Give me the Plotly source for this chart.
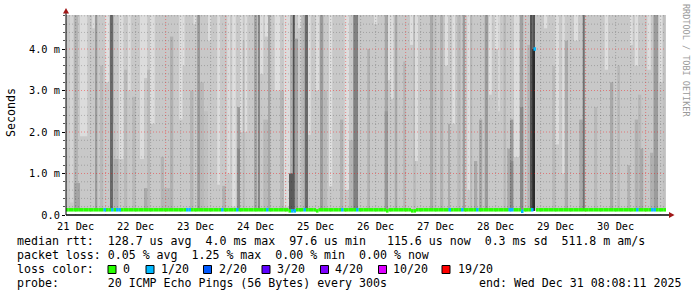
import pandas as pd
import plotly.graph_objects as go

# ---------------- data ----------------
START = pd.Timestamp("2025-12-21 08:08:11")
END = pd.Timestamp("2025-12-31 08:08:11")
Y_TOP = 4.82  # ms

day_labels = ["21 Dec", "22 Dec", "23 Dec", "24 Dec", "25 Dec",
              "26 Dec", "27 Dec", "28 Dec", "29 Dec", "30 Dec"]
day_label_times = ["2025-12-21 12:00", "2025-12-22 12:00", "2025-12-23 12:00",
                   "2025-12-24 12:00", "2025-12-25 12:00", "2025-12-26 12:00",
                   "2025-12-27 12:00", "2025-12-28 12:00", "2025-12-29 12:00",
                   "2025-12-30 12:00"]

y_tick_vals = [0, 1, 2, 3, 4]
y_tick_text = ["0.0", "1.0 m", "2.0 m", "3.0 m", "4.0 m"]

# smoke background (ms) : lower, upper, gray level
smoke_base = (0.1, 5.0, 200)

# smoke bands: start hour, end hour (since START), low ms, high ms, gray level
smoke_bands = [
    (1.6, 2.9, 0.3, 5, 212), (3.2, 4.8, 0.1, 5, 180), (3.2, 5.6, 0.1, 0.77, 165),
    (5.6, 8.5, 1.9, 5, 220), (10.5, 11.5, 4.5, 5, 220), (11.6, 12.5, 0.1, 5, 155),
    (13.6, 14.9, 0.1, 3.6, 184), (15.7, 17.2, 3.2, 5, 224), (17.6, 18.9, 0.1, 5, 106),
    (18.9, 19.9, 0.1, 2.2, 192), (19.0, 21.0, 0.1, 1.35, 176), (21.2, 23.0, 1.35, 5, 220),
    (23.2, 24.5, 0.1, 3.5, 184), (24.8, 25.9, 3.0, 5, 220), (26.5, 27.9, 0.1, 2.85, 184),
    (29.6, 31.2, 1.35, 5, 220), (31.2, 32.5, 3.3, 5, 220), (31.2, 32.8, 0.1, 0.65, 170),
    (32.5, 33.6, 0.1, 3.5, 184), (33.6, 35.5, 2.2, 5, 220), (37.9, 39.2, 0.1, 1.4, 180),
    (39.2, 41.6, 0.1, 0.65, 184), (41.6, 42.9, 0.1, 4.3, 176), (45.3, 46.6, 2.3, 5, 222),
    (46.6, 47.4, 3.6, 5, 222), (49.6, 51.0, 0.1, 3.0, 180), (51.0, 52.0, 4.6, 5, 220),
    (52.5, 53.6, 0.1, 5, 153), (53.6, 55.2, 0.1, 3.2, 184), (55.2, 56.8, 0.1, 2.5, 192),
    (56.8, 57.9, 4.2, 5, 220),
    (60.5, 61.6, 0.73, 5, 220), (62.5, 63.9, 0.1, 0.7, 176), (64.5, 65.6, 1.0, 5, 220),
    (66.5, 67.9, 0.2, 5, 222), (68.5, 69.6, 0.1, 2.6, 155), (68.5, 69.6, 0.1, 1.6, 136),
    (69.6, 70.7, 2.0, 5, 220), (70.7, 71.5, 0.1, 4.2, 184), (71.5, 72.5, 2.0, 5, 220),
    (75.2, 76.5, 0.1, 5, 165), (76.8, 77.6, 0.1, 5, 136), (77.6, 78.9, 3.4, 5, 220),
    (78.9, 81.2, 0.1, 2.3, 184), (79.5, 80.8, 4.3, 5, 222), (80.8, 81.7, 0.1, 5, 165),
    (83.5, 85.6, 3.0, 5, 222), (85.6, 87.2, 0.1, 3.0, 180), (87.2, 89.6, 0.2, 5, 220),
    (89.6, 90.7, 0.1, 5, 176), (90.7, 91.5, 0.1, 5, 80), (89.2, 91.5, 0.1, 1.0, 90),
    (91.5, 92.8, 0.1, 4.25, 160), (92.8, 94.1, 4.5, 5, 220), (94.1, 95.5, 0.1, 5, 184),
    (95.5, 96.8, 0.1, 5, 106), (96.8, 97.9, 1.93, 5, 220), (99.9, 101.2, 3.0, 5, 220),
    (101.6, 102.9, 0.1, 5, 155), (102.9, 104.5, 0.1, 3.0, 184), (105.2, 106.5, 0.69, 5, 222),
    (109.6, 110.9, 0.1, 2.3, 176), (111.5, 113.2, 0.6, 5, 222), (113.2, 114.9, 0.1, 1.8, 180),
    (114.9, 116.8, 0.1, 5, 128),
    (120.5, 121.6, 0.1, 4.0, 176), (123.2, 124.5, 4.6, 5, 220), (127.5, 128.8, 0.1, 5, 165),
    (127.5, 128.8, 0.1, 2.5, 150), (128.8, 129.9, 3.25, 5, 222), (129.9, 131.0, 2.8, 5, 220),
    (131.5, 132.5, 0.1, 5, 168), (134.9, 135.9, 0.1, 3.7, 180), (137.6, 138.9, 4.1, 5, 222),
    (138.9, 139.9, 0.1, 5, 184), (139.6, 140.8, 1.3, 5, 220), (145.6, 146.9, 0.1, 5, 168),
    (146.9, 148.2, 0.1, 5, 192), (149.6, 150.9, 0.1, 5, 176), (151.6, 152.8, 3.6, 5, 222),
    (152.8, 153.6, 0.1, 2.2, 170), (154.5, 155.6, 2.2, 5, 222), (156.5, 157.9, 0.1, 5, 184),
    (158.7, 159.6, 0.1, 5, 155), (160.5, 161.6, 0.6, 5, 222), (161.6, 162.5, 0.1, 5, 184),
    (163.2, 164.5, 0.1, 1.3, 168), (165.2, 166.5, 0.1, 2.3, 168), (167.5, 168.8, 0.1, 5, 155),
    (169.2, 170.3, 2.9, 5, 222), (171.5, 172.8, 4.0, 5, 222), (172.8, 173.6, 2.5, 5, 214),
    (175.0, 176.0, 0.1, 5, 184), (176.5, 177.6, 0.1, 1.6, 168), (177.6, 178.9, 0.1, 2.3, 155),
    (177.6, 178.9, 0.1, 1.3, 136),
    (179.2, 181.2, 1.4, 5, 220), (181.6, 182.9, 0.1, 5, 160), (181.6, 182.9, 0.1, 2.6, 136),
    (184.5, 185.6, 0.1, 4.1, 180), (185.6, 186.5, 0.1, 5, 85), (186.5, 187.6, 0.1, 5, 85),
    (186.5, 187.6, 0.1, 4.0, 42), (191.2, 192.5, 4.5, 5, 222), (194.5, 195.8, 0.1, 3.6, 184),
    (195.8, 197.2, 1.7, 5, 220), (198.5, 199.5, 1.0, 5, 220), (199.5, 200.8, 0.1, 4.2, 170),
    (203.2, 204.8, 4.2, 5, 222), (205.3, 206.7, 0.1, 2.3, 168), (206.7, 207.5, 0.1, 5, 112),
    (211.2, 212.5, 0.1, 2.6, 184), (215.5, 216.8, 3.5, 5, 222), (217.6, 218.9, 0.1, 3.2, 168),
    (220.5, 221.6, 0.1, 3.6, 184), (224.5, 225.6, 0.1, 1.2, 176), (225.6, 226.7, 4.1, 5, 222),
    (227.5, 228.8, 3.6, 5, 222), (227.5, 228.8, 0.1, 2.3, 176), (228.8, 230.1, 0.1, 2.9, 184),
    (229.5, 230.9, 0.1, 1.6, 168), (232.5, 233.9, 3.5, 5, 222), (233.6, 234.9, 0.1, 1.5, 176),
    (235.0, 236.8, 0.1, 5, 155), (237.3, 238.7, 3.2, 5, 222), (238.7, 239.6, 0.1, 5, 192),
]

# hourly median rtt (ms), 10 rows of 24 hours
median_ms = [
    0.125, 0.125, 0.125, 0.125, 0.125, 0.125, 0.125, 0.125, 0.125, 0.125, 0.125, 0.125,
    0.125, 0.125, 0.125, 0.125, 0.125, 0.125, 0.125, 0.125, 0.125, 0.125, 0.125, 0.125,
    0.125, 0.125, 0.125, 0.125, 0.125, 0.125, 0.125, 0.125, 0.125, 0.125, 0.125, 0.125,
    0.125, 0.125, 0.125, 0.125, 0.125, 0.125, 0.125, 0.125, 0.125, 0.125, 0.125, 0.125,
    0.125, 0.125, 0.125, 0.125, 0.125, 0.125, 0.125, 0.125, 0.125, 0.125, 0.125, 0.125,
    0.125, 0.125, 0.125, 0.125, 0.125, 0.125, 0.125, 0.125, 0.125, 0.125, 0.125, 0.125,
    0.125, 0.125, 0.125, 0.125, 0.125, 0.125, 0.125, 0.125, 0.125, 0.125, 0.125, 0.125,
    0.125, 0.125, 0.125, 0.125, 0.125, 0.100, 0.100, 0.100, 0.125, 0.125, 0.125, 0.125,
    0.125, 0.125, 0.125, 0.125, 0.100, 0.125, 0.125, 0.125, 0.125, 0.125, 0.125, 0.125,
    0.125, 0.125, 0.125, 0.125, 0.125, 0.125, 0.125, 0.125, 0.125, 0.125, 0.125, 0.125,
    0.125, 0.125, 0.125, 0.125, 0.125, 0.125, 0.125, 0.125, 0.100, 0.125, 0.125, 0.125,
    0.125, 0.125, 0.125, 0.125, 0.125, 0.125, 0.100, 0.100, 0.125, 0.125, 0.125, 0.125,
    0.125, 0.125, 0.125, 0.125, 0.125, 0.125, 0.125, 0.125, 0.125, 0.125, 0.125, 0.125,
    0.125, 0.125, 0.125, 0.125, 0.125, 0.125, 0.125, 0.125, 0.125, 0.125, 0.125, 0.125,
    0.125, 0.125, 0.125, 0.125, 0.125, 0.125, 0.125, 0.125, 0.125, 0.125, 0.125, 0.125,
    0.125, 0.125, 0.090, 0.125, 0.125, 0.125, 0.125, 4.000, 0.125, 0.125, 0.125, 0.125,
    0.125, 0.125, 0.125, 0.125, 0.125, 0.125, 0.125, 0.125, 0.125, 0.125, 0.125, 0.125,
    0.125, 0.125, 0.125, 0.125, 0.125, 0.125, 0.125, 0.125, 0.125, 0.125, 0.125, 0.125,
    0.125, 0.125, 0.125, 0.125, 0.125, 0.125, 0.125, 0.125, 0.125, 0.125, 0.125, 0.125,
    0.125, 0.125, 0.125, 0.125, 0.125, 0.125, 0.125, 0.125, 0.125, 0.125, 0.125, 0.125,
]

# hourly lost pings out of 20
loss_of_20 = [
    0, 0, 0, 0, 0, 0, 0, 0, 0, 0, 0, 0, 0, 0, 0, 1, 0, 0, 1, 0, 1, 1, 0, 0,
    0, 0, 0, 0, 0, 0, 0, 0, 0, 0, 0, 0, 0, 0, 0, 0, 0, 0, 0, 0, 0, 0, 0, 0,
    1, 1, 0, 0, 0, 0, 0, 0, 0, 0, 0, 0, 0, 0, 1, 0, 0, 0, 0, 0, 1, 0, 0, 0,
    0, 0, 0, 0, 0, 0, 0, 0, 1, 0, 0, 0, 0, 0, 0, 0, 0, 0, 1, 1, 0, 0, 0, 1,
    0, 0, 0, 0, 0, 0, 0, 0, 0, 0, 0, 0, 0, 0, 1, 0, 0, 0, 0, 0, 1, 0, 0, 0,
    0, 0, 0, 0, 0, 0, 0, 0, 0, 0, 0, 0, 0, 0, 0, 0, 0, 0, 0, 0, 0, 0, 0, 0,
    0, 0, 0, 0, 0, 0, 0, 0, 0, 1, 0, 0, 0, 0, 1, 0, 0, 0, 0, 0, 1, 0, 0, 0,
    0, 0, 0, 0, 0, 0, 0, 0, 0, 1, 1, 0, 0, 0, 1, 0, 0, 0, 1, 1, 0, 0, 0, 0,
    0, 0, 0, 0, 0, 0, 0, 0, 0, 0, 0, 0, 0, 0, 0, 0, 0, 0, 0, 0, 0, 0, 0, 0,
    0, 0, 0, 0, 0, 0, 0, 0, 0, 0, 0, 0, 1, 0, 0, 0, 0, 0, 1, 1, 0, 0, 0, 0,
]

loss_levels = [0, 1, 2, 3, 4, 10, 19]
loss_labels = ["0", "1/20", "2/20", "3/20", "4/20", "10/20", "19/20"]
loss_colors = ["#26ff00", "#00b8ff", "#0059ff", "#5e00ff", "#7e00ff", "#dd00ff", "#ff0000"]

legend_line1 = "median rtt:  128.7 us avg  4.0 ms max  97.6 us min   115.6 us now  0.3 ms sd  511.8 m am/s"
legend_line2 = "packet loss: 0.05 % avg  1.25 % max  0.00 % min  0.00 % now"
legend_line3 = "loss color:"
legend_probe = "probe:       20 ICMP Echo Pings (56 Bytes) every 300s"
legend_end = "end: Wed Dec 31 08:08:11 2025"
side_text = "RRDTOOL / TOBI OETIKER"
y_title = "Seconds"

# ---------------- geometry helpers ----------------
W, H = 697, 297
ML, MR, MT, MB = 66, 31, 15, 82
PW, PH = W - ML - MR, H - MT - MB
MONO = "DejaVu Sans Mono"


def px(x):
    return (x - ML) / PW


def py(y):
    return (H - MB - y) / PH


def t(h):
    return START + pd.Timedelta(hours=h)


def gray(g):
    return f"rgb({g},{g},{g})"


fig = go.Figure()

# smoke base
fig.add_trace(go.Bar(
    x=[t(120)], y=[smoke_base[1] - smoke_base[0]], base=[smoke_base[0]],
    width=[(END - START).total_seconds() * 1000],
    marker=dict(color=gray(smoke_base[2]), line=dict(width=0)),
    hoverinfo="skip"))

# smoke bands
fig.add_trace(go.Bar(
    x=[t((a + b) / 2) for a, b, lo, hi, g in smoke_bands],
    y=[hi - lo for a, b, lo, hi, g in smoke_bands],
    base=[lo for a, b, lo, hi, g in smoke_bands],
    width=[(b - a) * 3600 * 1000 for a, b, lo, hi, g in smoke_bands],
    marker=dict(color=[gray(g) for a, b, lo, hi, g in smoke_bands], line=dict(width=0)),
    hoverinfo="skip"))

# grid lines (drawn above smoke like rrdtool)
minor_y = [k / 5 for k in range(1, 25) if k % 5]
major_y = [1, 2, 3, 4]
grid_times = pd.date_range("2025-12-21 12:00", "2025-12-31 06:00", freq="6h")
minor_t = [g for g in grid_times if g.hour != 0]
major_t = [g for g in grid_times if g.hour == 0]


def hlines(vals):
    xs, ys = [], []
    for v in vals:
        xs += [START, END, None]
        ys += [v, v, None]
    return xs, ys


def vlines(vals):
    xs, ys = [], []
    for v in vals:
        xs += [v, v, None]
        ys += [0, Y_TOP, None]
    return xs, ys


for (xs, ys), col in [(hlines(minor_y), "rgba(0,0,0,0.2)"), (vlines(minor_t), "rgba(0,0,0,0.2)"),
                      (hlines(major_y), "rgba(255,0,0,0.4)"), (vlines(major_t), "rgba(255,0,0,0.4)")]:
    fig.add_trace(go.Scatter(x=xs, y=ys, mode="lines",
                             line=dict(color=col, width=1, dash="1px,2px"),
                             hoverinfo="skip", cliponaxis=True))

# median line coloured by loss
for lvl, col in zip(loss_levels, loss_colors):
    xs, ys = [], []
    for i, (m, l) in enumerate(zip(median_ms, loss_of_20)):
        bucket = max(v for v in loss_levels if v <= l)
        if bucket == lvl:
            xs += [t(i), t(i + 1), None]
            ys += [m, m, None]
    if xs:
        fig.add_trace(go.Scatter(x=xs, y=ys, mode="lines",
                                 line=dict(color=col, width=3.5),
                                 hoverinfo="skip"))

shapes = []
# axes lines and arrows
shapes.append(dict(type="line", xref="paper", yref="paper", x0=px(66), x1=px(670),
                   y0=py(215), y1=py(215), line=dict(color="#000", width=1.5)))
shapes.append(dict(type="line", xref="paper", yref="paper", x0=px(66), x1=px(66),
                   y0=py(215), y1=py(12), line=dict(color="#000", width=1)))
shapes.append(dict(type="path", xref="paper", yref="paper",
                   path=f"M {px(669)} {py(212)} L {px(674.5)} {py(215)} L {px(669)} {py(218)} Z",
                   fillcolor="#a01818", line=dict(width=0)))
shapes.append(dict(type="path", xref="paper", yref="paper",
                   path=f"M {px(63)} {py(13.5)} L {px(66)} {py(8)} L {px(69)} {py(13.5)} Z",
                   fillcolor="#a01818", line=dict(width=0)))

annotations = []


def txt(s, x, y, size=11.6, color="#000", angle=0, xanchor="left"):
    annotations.append(dict(text=s.replace(" ", "\u00a0"), x=px(x), y=py(y), xref="paper", yref="paper",
                            xanchor=xanchor, yanchor="middle", showarrow=False, textangle=angle,
                            font=dict(family=MONO, size=size, color=color)))


txt(legend_line1, 15, 241)
txt(legend_line2, 15, 255)
txt(legend_line3, 15, 269)
txt(legend_probe, 15, 283)
txt(legend_end, 477, 283)

swatch_x = [108, 146, 203.5, 262, 320.5, 378.5, 442]
label_x = [121, 158.5, 216.5, 274.5, 333, 391, 455.5]
for sx, lx, lab, col in zip(swatch_x, label_x, loss_labels, loss_colors):
    shapes.append(dict(type="rect", xref="paper", yref="paper", x0=px(sx), x1=px(sx + 8),
                       y0=py(273.5), y1=py(265.5), fillcolor=col, line=dict(color="#000", width=1)))
    txt(lab, lx, 269)

txt(y_title, 11, 113, angle=-90, xanchor="center")
txt(side_text, 686, 60, size=8.5, color="#999999", angle=90, xanchor="center")

fig.update_layout(
    width=W, height=H, margin=dict(l=ML, r=MR, t=MT, b=MB),
    paper_bgcolor="white", plot_bgcolor="white", showlegend=False,
    barmode="overlay", shapes=shapes, annotations=annotations,
    xaxis=dict(type="date", range=[START, END], showgrid=False, zeroline=False, showline=False,
               tickmode="array", tickvals=day_label_times, ticktext=day_labels, ticks="",
               ticklabelstandoff=4,
               tickfont=dict(family=MONO, size=10.3, color="#000")),
    yaxis=dict(range=[0, Y_TOP], showgrid=False, zeroline=False, showline=False,
               tickmode="array", tickvals=y_tick_vals, ticktext=y_tick_text,
               ticks="outside", ticklen=3, tickcolor="#000",
               minor=dict(dtick=0.2, tick0=0, ticks="outside", ticklen=2, tickcolor="#555", showgrid=False),
               tickfont=dict(family=MONO, size=10.3, color="#000")),
)

fig.write_html("out.html")
